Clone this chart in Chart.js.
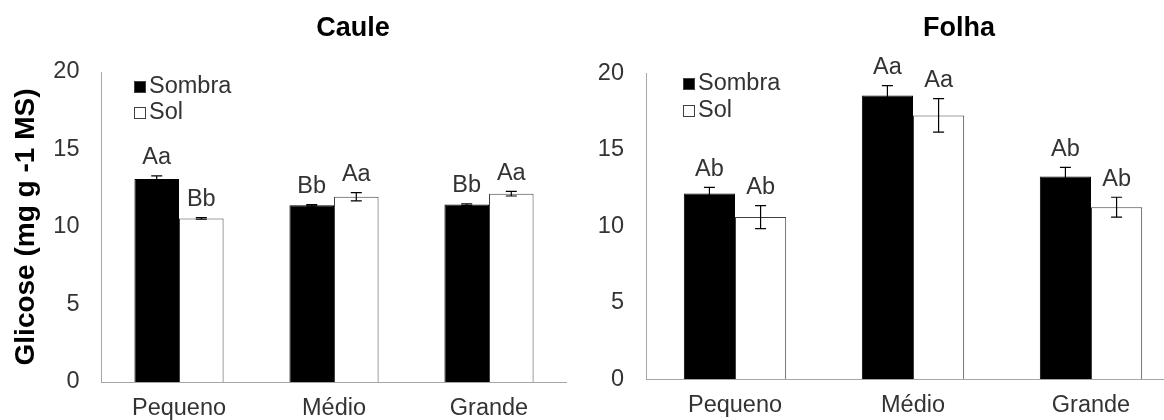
<!DOCTYPE html>
<html>
<head>
<meta charset="utf-8">
<script src="https://cdn.jsdelivr.net/npm/chart.js@4.4.1/dist/chart.umd.min.js"></script>
<style>
  html, body { margin: 0; padding: 0; background: #fff; }
  body { width: 1164px; height: 420px; overflow: hidden; position: relative; }
  canvas { position: absolute; top: 0; }
  #cauleChart { left: 0; }
  #folhaChart { left: 560px; }
</style>
</head>
<body>
<canvas id="cauleChart" width="600" height="420"></canvas>
<canvas id="folhaChart" width="640" height="420"></canvas>
<script>
// Glicose (mg g-1 MS) por tamanho, sombra x sol
const categories = ['Pequeno', 'Médio', 'Grande'];
const yTicks = [0, 5, 10, 15, 20];
const seriesNames = ['Sombra', 'Sol'];

// Caule
const cauleSombra = [13.1, 11.4, 11.45];
const cauleSombraErr = [0.2, 0.05, 0.05];
const cauleSombraLetters = ['Aa', 'Bb', 'Bb'];
const cauleSol = [10.55, 11.95, 12.15];
const cauleSolErr = [0.05, 0.27, 0.15];
const cauleSolLetters = ['Bb', 'Aa', 'Aa'];

// Folha
const folhaSombra = [12.15, 18.55, 13.25];
const folhaSombraErr = [0.4, 0.65, 0.6];
const folhaSombraLetters = ['Ab', 'Aa', 'Ab'];
const folhaSol = [10.6, 17.25, 11.25];
const folhaSolErr = [0.75, 1.1, 0.65];
const folhaSolLetters = ['Ab', 'Aa', 'Ab'];

const FONT = "'Liberation Sans', Arial, sans-serif";
const TEXT = '#333333';
const AXIS = '#a6a6a6';
const FS = 23.5;

// error bars + significance letters on top of each bar
const errorBarPlugin = {
  id: 'errorBars',
  afterDatasetsDraw(chart) {
    const ctx = chart.ctx;
    const y = chart.scales.y;
    ctx.save();
    chart.data.datasets.forEach((ds, i) => {
      const meta = chart.getDatasetMeta(i);
      meta.data.forEach((bar, j) => {
        const v = ds.data[j], e = ds.errors[j];
        const yt = y.getPixelForValue(v + e);
        const yb = y.getPixelForValue(v - e);
        ctx.strokeStyle = '#000';
        ctx.lineWidth = 1.2;
        ctx.beginPath();
        ctx.moveTo(bar.x, yt); ctx.lineTo(bar.x, yb);
        ctx.moveTo(bar.x - 5.5, yt); ctx.lineTo(bar.x + 5.5, yt);
        ctx.moveTo(bar.x - 5.5, yb); ctx.lineTo(bar.x + 5.5, yb);
        ctx.stroke();
        ctx.fillStyle = TEXT;
        ctx.font = FS + 'px ' + FONT;
        ctx.textAlign = 'center';
        ctx.textBaseline = 'middle';
        ctx.fillText(ds.letters[j], bar.x, yt - 18);
      });
    });
    ctx.restore();
  }
};

// legend drawn inside the plot, stacked
const innerLegendPlugin = {
  id: 'innerLegend',
  afterDraw(chart, args, opts) {
    const ctx = chart.ctx;
    const area = chart.chartArea;
    ctx.save();
    chart.data.datasets.forEach((ds, i) => {
      const x = area.left + opts.x;
      const cy = area.top + opts.y + i * opts.gap;
      ctx.fillStyle = ds.backgroundColor;
      ctx.fillRect(x, cy - 6, 12, 12);
      ctx.strokeStyle = '#404040';
      ctx.lineWidth = 1;
      ctx.strokeRect(x + 0.5, cy - 5.5, 11, 11);
      ctx.fillStyle = TEXT;
      ctx.font = FS + 'px ' + FONT;
      ctx.textAlign = 'left';
      ctx.textBaseline = 'middle';
      ctx.fillText(ds.label, x + 15, cy);
    });
    ctx.restore();
  }
};

const panelTitlePlugin = {
  id: 'panelTitle',
  afterDraw(chart, args, opts) {
    const ctx = chart.ctx;
    ctx.save();
    ctx.fillStyle = '#000';
    ctx.font = 'bold 27px ' + FONT;
    ctx.textAlign = 'center';
    ctx.textBaseline = 'middle';
    ctx.fillText(opts.text, opts.x, opts.y);
    ctx.restore();
  }
};

function makePanel(id, title, sombra, sombraErr, sombraLetters, sol, solErr, solLetters, geo) {
  const ctx = document.getElementById(id).getContext('2d');
  return new Chart(ctx, {
    type: 'bar',
    data: {
      labels: categories,
      datasets: [
        { label: seriesNames[0], data: sombra, errors: sombraErr, letters: sombraLetters,
          backgroundColor: '#000', borderColor: '#000', borderWidth: 1 },
        { label: seriesNames[1], data: sol, errors: solErr, letters: solLetters,
          backgroundColor: '#fff', borderColor: '#404040', borderWidth: 1 }
      ]
    },
    options: {
      responsive: false,
      animation: false,
      datasets: { bar: { categoryPercentage: 0.575, barPercentage: 1 } },
      layout: { padding: { top: geo.top, right: geo.right, bottom: 0, left: 0 } },
      plugins: {
        legend: { display: false },
        title: { display: false },
        tooltip: { enabled: false },
        innerLegend: geo.legend,
        panelTitle: { text: title, x: geo.titleX, y: 29 }
      },
      scales: {
        x: {
          grid: { display: false, drawTicks: false },
          border: { display: true, color: AXIS, width: 1 },
          ticks: { color: TEXT, font: { family: FONT, size: FS }, padding: 12 },
          afterFit(scale) { scale.height = geo.xHeight; }
        },
        y: {
          min: 0, max: 20,
          grid: { display: false, drawTicks: false },
          border: { display: true, color: AXIS, width: 1 },
          ticks: { color: TEXT, font: { family: FONT, size: FS }, padding: 22 },
          afterBuildTicks(scale) { scale.ticks = yTicks.map(v => ({ value: v })); },
          afterFit(scale) { scale.width = geo.yWidth; },
          title: {
            display: geo.yTitle,
            text: 'Glicose (mg g -1 MS)',
            color: '#000',
            font: { family: FONT, size: 28, weight: 'bold' },
            padding: { top: 9, bottom: 0 }
          }
        }
      }
    },
    plugins: [errorBarPlugin, innerLegendPlugin, panelTitlePlugin]
  });
}

makePanel('cauleChart', 'Caule', cauleSombra, cauleSombraErr, cauleSombraLetters,
  cauleSol, cauleSolErr, cauleSolLetters,
  { top: 72, right: 33.5, xHeight: 38, yWidth: 101.5, yTitle: true, titleX: 353,
    legend: { x: 32.5, y: 15, gap: 26 } });

makePanel('folhaChart', 'Folha', folhaSombra, folhaSombraErr, folhaSombraLetters,
  folhaSol, folhaSolErr, folhaSolLetters,
  { top: 73.3, right: 20, xHeight: 40.7, yWidth: 86, yTitle: false, titleX: 399,
    legend: { x: 37, y: 10.7, gap: 27 } });
</script>
</body>
</html>
